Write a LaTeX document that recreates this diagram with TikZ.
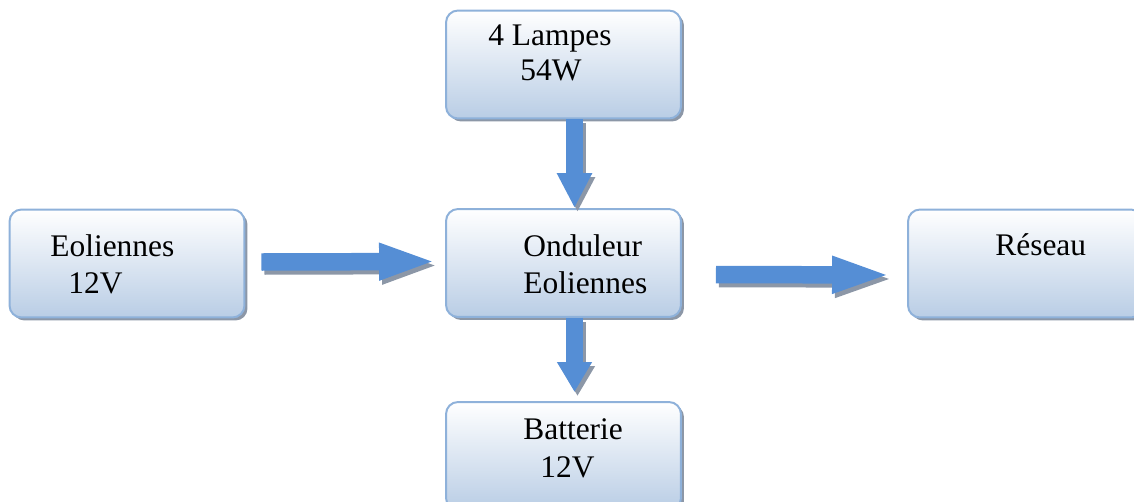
\documentclass[tikz,border=0pt]{standalone}
\usepackage{fontspec}
\setmainfont{Liberation Serif}
\usetikzlibrary{arrows.meta,positioning,calc,shadows}
\definecolor{boitebleu}{HTML}{B9CDE5}
\definecolor{boitebord}{HTML}{8EB1DA}
\definecolor{flechebleu}{HTML}{558ED5}
\definecolor{ombregris}{HTML}{8C97A7}
\tikzset{
  boite/.style={rectangle, rounded corners=0.24cm, draw=boitebord, line width=0.04cm,
    top color=white, bottom color=boitebleu, minimum width=4.7cm, minimum height=2.16cm,
    drop shadow={shadow xshift=0.06cm, shadow yshift=-0.06cm, fill=ombregris, opacity=1}},
  txt/.style={anchor=base west, inner sep=0pt, font=\fontsize{17.9}{21}\selectfont},
  fleche/.style={draw=flechebleu, line width=0.35cm, -{Triangle[length=#1, width=0.66cm]}},
  fleche/.default=1.16cm,
  ombre/.style={draw=ombregris, transform canvas={shift={(0.06cm,-0.08cm)}}},
}

\begin{document}
\begin{tikzpicture}[x=0.02cm, y=-0.02cm]
  \clip (0,0) rectangle (1134,501);
  % boxes
  \node[boite] (lamp) at (563.5,64.5) {};
  \node[boite] (eol)  at (127,263.5)  {};
  \node[boite] (ond)  at (563.5,263)  {};
  \node[boite] (res)  at (1025.5,263.5) {};
  \node[boite] (bat)  at (563.5,456)  {};
  % texts
  \node[txt] (lampA) at (488,45)  {4 Lampes};
  \node[txt] (lampB) at (520,80)  {54W};
  \node[txt] (eolA)  at (50,256)  {Eoliennes};
  \node[txt] (eolB)  at (68,293)  {12V};
  \node[txt] (ondA)  at (523,256) {Onduleur};
  \node[txt] (ondB)  at (523,293) {Eoliennes};
  \node[txt] (batA)  at (523,439) {Batterie};
  \node[txt] (batB)  at (540,477) {12V};
  \node[txt] (resA)  at (995,255) {Réseau};
  % arrows (shadow first)
  \draw[fleche, ombre] ($(eol.east)+(16,-1.5)$) -- ($(ond.west)+(-8,-1.5)$);
  \draw[fleche]        ($(eol.east)+(16,-1.5)$) -- ($(ond.west)+(-8,-1.5)$);
  \draw[fleche=0.7cm, ombre] ($(lamp.south)+(11,0)$) -- ($(ond.north)+(11,0)$);
  \draw[fleche=0.7cm]        ($(lamp.south)+(11,0)$) -- ($(ond.north)+(11,0)$);
  \draw[fleche=1.2cm, ombre] ($(ond.east)+(34,11.5)$) -- ($(res.west)+(-15,11.5)$);
  \draw[fleche=1.2cm]        ($(ond.east)+(34,11.5)$) -- ($(res.west)+(-15,11.5)$);
  \draw[fleche=0.6cm, ombre] ($(ond.south)+(11,0)$) -- ($(bat.north)+(11,-9)$);
  \draw[fleche=0.6cm]        ($(ond.south)+(11,0)$) -- ($(bat.north)+(11,-9)$);
\end{tikzpicture}
\end{document}
